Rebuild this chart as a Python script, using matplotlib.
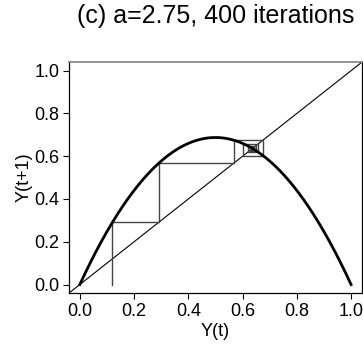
import matplotlib
matplotlib.use("Agg")
import matplotlib.pyplot as plt
import numpy as np

A = 2.75
X0 = 0.12
N_ITER = 400
TICKS = [0.0, 0.2, 0.4, 0.6, 0.8, 1.0]
TICK_LABELS = ["0.0", "0.2", "0.4", "0.6", "0.8", "1.0"]


def logistic(y):
    return A * y * (1 - y)


def cobweb(x0, n):
    xs, ys = [x0], [0.0]
    x = x0
    for _ in range(n):
        y = logistic(x)
        xs += [x, y]
        ys += [y, y]
        x = y
    return np.array(xs), np.array(ys)


def main():
    plt.rcParams.update({
        "font.family": ["Liberation Sans", "DejaVu Sans"],
        "font.size": 13,
    })

    fig = plt.figure(figsize=(3.63, 3.51), dpi=100)
    ax = fig.add_axes([0.190, 0.165, 0.807, 0.658])

    lo, hi = -0.04, 1.04
    ax.plot([lo, hi], [lo, hi], color="black", lw=0.8)

    cx, cy = cobweb(X0, N_ITER)
    ax.plot(cx, cy, color="#444444", lw=1.0)

    grid = np.linspace(0, 1, 300)
    ax.plot(grid, logistic(grid), color="black", lw=2.0)

    ax.set_xlim(lo, hi)
    ax.set_ylim(lo, hi)
    ax.set_xticks(TICKS)
    ax.set_xticklabels(TICK_LABELS)
    ax.set_yticks(TICKS)
    ax.set_yticklabels(TICK_LABELS)
    ax.tick_params(direction="out", length=4, width=0.8, labelsize=13, pad=3)

    for side in ["left", "bottom", "right"]:
        ax.spines[side].set_color("black")
        ax.spines[side].set_linewidth(0.9)
    ax.spines["top"].set_color("#808080")
    ax.spines["top"].set_linewidth(1.2)

    ax.set_xlabel("Y(t)", fontsize=13, labelpad=2)
    ax.set_ylabel("Y(t+1)", fontsize=13, labelpad=1)
    ax.set_title("(c) a=2.75, 400 iterations", fontsize=18, pad=28)

    fig.savefig("out.png", dpi=100)
    plt.close(fig)


if __name__ == "__main__":
    main()
